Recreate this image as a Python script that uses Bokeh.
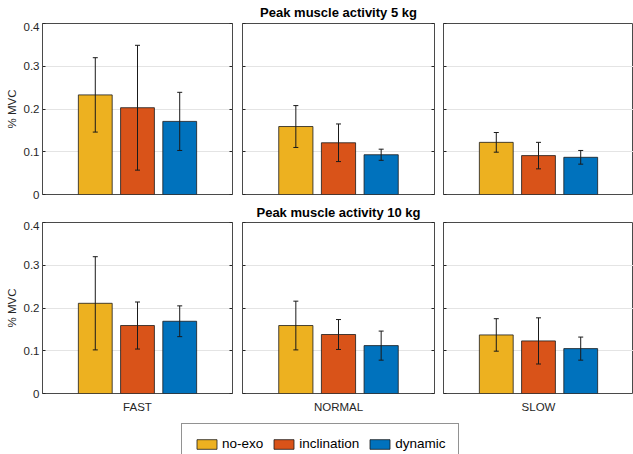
from bokeh.plotting import figure
from bokeh.models import (Range1d, FixedTicker, CustomJSTickFormatter, LinearAxis,
                          ColumnDataSource, Whisker, TeeHead, Label, Legend, LegendItem)
from bokeh.layouts import column, row
from bokeh.embed import file_html
from bokeh.resources import INLINE

# ---------------- data ----------------
categories = ["FAST", "NORMAL", "SLOW"]
series = ["no-exo", "inclination", "dynamic"]
colors = ["#EDB120", "#D95319", "#0072BD"]
titles = ["Peak muscle activity 5 kg", "Peak muscle activity 10 kg"]
y_ticks = [0, 0.1, 0.2, 0.3, 0.4]

noexo_5kg = [0.233, 0.159, 0.122]
incl_5kg = [0.203, 0.121, 0.091]
dyn_5kg = [0.171, 0.093, 0.087]
noexo_5kg_sd = [0.087, 0.049, 0.023]
incl_5kg_sd = [0.146, 0.044, 0.031]
dyn_5kg_sd = [0.068, 0.013, 0.016]

noexo_10kg = [0.211, 0.159, 0.137]
incl_10kg = [0.159, 0.138, 0.123]
dyn_10kg = [0.169, 0.112, 0.105]
noexo_10kg_sd = [0.109, 0.057, 0.038]
incl_10kg_sd = [0.055, 0.035, 0.054]
dyn_10kg_sd = [0.036, 0.034, 0.027]

means = [[noexo_5kg, incl_5kg, dyn_5kg], [noexo_10kg, incl_10kg, dyn_10kg]]
sds = [[noexo_5kg_sd, incl_5kg_sd, dyn_5kg_sd], [noexo_10kg_sd, incl_10kg_sd, dyn_10kg_sd]]

# ---------------- style ----------------
FONT = "Liberation Sans"
TXT = "#262626"
EDGE = "#1a1a1a"
offsets = [-0.2222, 0.0, 0.2222]
BAR_W = 0.178
FRAME_H = 171
PAGE_W = 633
frame_w = [190, 192, 190]
b_left = [42, 5, 4]
b_right = [5, 5, 0]
b_top = [1, 1]
b_bottom = [5, 29]

fmt_num = CustomJSTickFormatter(code="return (Math.round(tick*10)/10).toString();")
fmt_none = CustomJSTickFormatter(code="return '';")


def bare_fig(h):
    f = figure(width=PAGE_W, height=h, output_backend="svg", toolbar_location=None,
               x_range=Range1d(0, 1), y_range=Range1d(0, 1),
               x_axis_location=None, y_axis_location=None,
               min_border_left=0, min_border_right=0, min_border_top=0, min_border_bottom=0)
    f.outline_line_color = None
    f.xgrid.visible = False
    f.ygrid.visible = False
    f.background_fill_color = "white"
    f.border_fill_color = "white"
    return f


def title_fig(text, h, base):
    f = bare_fig(h)
    cx = b_left[0] + frame_w[0] + b_right[0] + b_left[1] + frame_w[1] / 2
    f.add_layout(Label(x=cx, y=base, x_units="screen", y_units="screen",
                       text=text, text_align="center", text_baseline="alphabetic",
                       text_font=FONT, text_font_size="13px", text_font_style="bold",
                       text_color="black"))
    return f


def style_yaxis(ax, labels):
    ax.ticker = FixedTicker(ticks=y_ticks)
    ax.formatter = fmt_num if labels else fmt_none
    ax.axis_line_color = None
    ax.major_tick_in = 3
    ax.major_tick_out = 0
    ax.minor_tick_line_color = None
    ax.major_tick_line_color = TXT
    ax.major_label_standoff = 3 if labels else 0
    ax.major_label_text_font = FONT
    ax.major_label_text_font_size = "11.5px"
    ax.major_label_text_color = TXT


def make_panel(r, c):
    bottom_row = r == 1
    p = figure(width=b_left[c] + frame_w[c] + b_right[c],
               height=b_top[r] + FRAME_H + b_bottom[r],
               output_backend="svg", toolbar_location=None,
               x_range=Range1d(0.5, 1.5), y_range=Range1d(0, 0.4),
               x_axis_location="below" if bottom_row else None,
               y_axis_location="left",
               min_border_left=b_left[c], min_border_right=b_right[c],
               min_border_top=b_top[r], min_border_bottom=b_bottom[r])
    p.background_fill_color = "white"
    p.border_fill_color = "white"
    p.outline_line_color = "#4a4a4a"
    p.outline_line_width = 1
    p.xgrid.visible = False
    p.ygrid.grid_line_color = "#e4e4e4"
    p.ygrid.grid_line_width = 1

    style_yaxis(p.yaxis[0], c == 0)
    if c < 2:
        rax = LinearAxis()
        style_yaxis(rax, False)
        p.add_layout(rax, "right")
    if c == 0:
        ya = p.yaxis[0]
        ya.axis_label = "% MVC"
        ya.axis_label_text_font = FONT
        ya.axis_label_text_font_size = "11.5px"
        ya.axis_label_text_font_style = "normal"
        ya.axis_label_text_color = TXT
        ya.axis_label_standoff = 3

    if bottom_row:
        xa = p.xaxis[0]
        xa.ticker = FixedTicker(ticks=[1])
        xa.formatter = CustomJSTickFormatter(args=dict(lab=categories[c]), code="return lab;")
        xa.axis_line_color = None
        xa.major_tick_in = 0
        xa.major_tick_out = 0
        xa.minor_tick_line_color = None
        xa.major_label_standoff = 7
        xa.major_label_text_font = FONT
        xa.major_label_text_font_size = "11.5px"
        xa.major_label_text_color = TXT

    m = [means[r][k][c] for k in range(3)]
    s = [sds[r][k][c] for k in range(3)]
    src = ColumnDataSource(dict(
        x=[1 + o for o in offsets], top=m,
        upper=[a + b for a, b in zip(m, s)], lower=[a - b for a, b in zip(m, s)],
        color=colors))
    p.vbar(x="x", top="top", bottom=0, width=BAR_W, source=src,
           fill_color="color", line_color=EDGE, line_width=0.8)
    w = Whisker(base="x", upper="upper", lower="lower", source=src,
                line_color=EDGE, line_width=1, level="overlay",
                upper_head=TeeHead(size=5, line_color=EDGE, line_width=1),
                lower_head=TeeHead(size=5, line_color=EDGE, line_width=1))
    p.add_layout(w)
    return p


t1 = title_fig(titles[0], 22, 10.5)
row1 = row(*[make_panel(0, c) for c in range(3)], spacing=0)
t2 = title_fig(titles[1], 22, 9.5)
row2 = row(*[make_panel(1, c) for c in range(3)], spacing=0)

# ---------------- legend strip ----------------
lf = bare_fig(32)
leg_src = ColumnDataSource(dict(x=[0.2, 0.5, 0.8], top=[m[0] for m in means[0]], color=colors))
leg_r = lf.vbar(x="x", top="top", width=0.1, source=leg_src,
                fill_color="color", line_color=EDGE, line_width=0.8)
leg_r.visible = False
items = [LegendItem(label=sname, renderers=[leg_r], index=k) for k, sname in enumerate(series)]
leg = Legend(items=items, orientation="horizontal", location=(181, -10),
             glyph_width=25, glyph_height=12, label_standoff=3, label_height=12,
             spacing=8, padding=12, margin=0,
             border_line_color=TXT, border_line_width=1,
             background_fill_color="white", background_fill_alpha=1,
             label_text_font=FONT, label_text_font_size="13.5px", label_text_color="black")
lf.add_layout(leg)

layout = column(t1, row1, t2, row2, lf, spacing=0)
open("out.html", "w").write(file_html(layout, INLINE))
